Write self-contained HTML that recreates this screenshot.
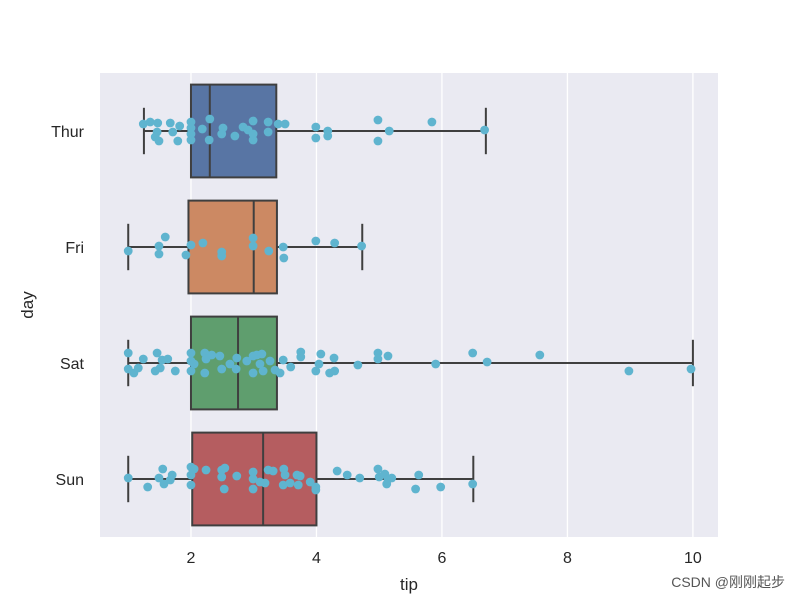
<!DOCTYPE html>
<html><head><meta charset="utf-8"><style>
body{margin:0;background:#fff;}
svg{display:block;font-family:"Liberation Sans","DejaVu Sans",sans-serif;}
</style></head><body>
<svg id="chart" width="800" height="600"></svg>
<script>
const categories=["Thur","Fri","Sat","Sun"];
const boxQ1=[2.0,1.96,2.0,2.02];
const boxMedian=[2.3,3.0,2.75,3.15];
const boxQ3=[3.36,3.37,3.37,4.0];
const whiskerLow=[1.25,1.0,1.0,1.0];
const whiskerHigh=[6.7,4.73,10.0,6.5];
const xTicks=[2,4,6,8,10];
const xTickLabels=["2","4","6","8","10"];
const boxColors=["#5875a4","#cc8963","#5f9e6e","#b55d60"];
const thurTips=[1.24,1.35,1.47,1.46,1.43,1.49,1.67,1.71,1.82,1.79,2.0,2.0,2.0,2.0,2.18,2.30,2.29,2.51,2.49,2.70,2.83,2.91,2.99,2.99,2.99,3.23,3.23,3.39,3.50,3.99,3.99,4.18,4.18,4.98,4.98,5.16,5.84,6.68];
const thurJitter=[-7,-9,-8,1,6,10,-8,1,-5,10,-9,-3,3,9,-2,-12,9,-3,3,5,-4,-1,-10,9,3,-9,1,-7,-7,-4,7,0,5,-11,10,0,-9,-1];
const friTips=[1.0,1.49,1.49,1.59,1.92,2.0,2.19,2.49,2.49,2.99,2.99,3.24,3.47,3.48,3.99,4.29,4.72];
const friJitter=[4,-1,7,-10,8,-2,-4,5,9,-9,-1,4,0,11,-6,-4,-1];
const satTips=[1.0,1.0,1.09,1.16,1.24,1.46,1.43,1.51,1.54,1.63,1.75,2.0,2.0,2.0,2.05,2.22,2.24,2.22,2.33,2.46,2.49,2.62,2.73,2.72,2.89,2.99,3.05,3.13,3.10,2.99,3.15,3.26,3.34,3.42,3.47,3.59,3.75,3.75,4.07,4.04,3.99,4.21,4.28,4.29,4.66,4.98,4.98,5.14,5.90,6.49,6.72,7.56,8.98,9.97];
const satJitter=[-10,6,10,5,-4,-10,8,5,-3,-4,8,-10,-2,8,1,-10,-4,10,-8,-7,6,1,-5,6,-2,-7,-8,-9,1,10,8,-2,7,10,-3,4,-11,-6,-9,1,8,10,-5,8,2,-10,-4,-7,1,-10,-1,-8,8,6];
const sunTips=[1.0,1.31,1.49,1.55,1.57,1.67,1.70,2.0,2.0,2.0,2.05,2.24,2.49,2.54,2.49,2.53,2.73,2.99,2.99,2.99,3.10,3.18,3.23,3.31,3.48,3.50,3.47,3.58,3.69,3.74,3.71,3.90,3.99,3.99,4.33,4.49,4.69,4.98,5.0,5.09,5.14,5.20,5.12,5.58,5.63,5.98,6.49];
const sunJitter=[-1,8,-1,-10,5,1,-4,-12,-4,6,-10,-9,-9,-11,-2,10,-3,-7,0,10,3,4,-9,-8,-10,-4,6,4,-4,-3,6,3,8,11,-8,-4,-1,-10,-2,-5,0,-1,5,10,-4,8,5];

const NS="http://www.w3.org/2000/svg";
const svg=document.getElementById("chart");
const L=100,R=718,T=73,B=537,xmin=0.55,xmax=10.4;
const xs=v=>L+(v-xmin)/(xmax-xmin)*(R-L);
const band=(B-T)/categories.length;
const ys=i=>T+band*(i+0.5);
function mk(tag,attrs,parent){const e=document.createElementNS(NS,tag);for(const k in attrs)e.setAttribute(k,attrs[k]);(parent||svg).appendChild(e);return e;}

const bg=mk("rect",{x:L,y:T,width:R-L,height:B-T,fill:"#eaeaf2"});


xTicks.forEach((t,i)=>{
  const g=mk("line",{x1:xs(t),x2:xs(t),y1:T,y2:B,stroke:"#fff","stroke-width":1.3});
  
  
  const tx=mk("text",{x:xs(t),y:563,"text-anchor":"middle","font-size":16,fill:"#262626"});
  tx.textContent=xTickLabels[i];
  
  
});
const bh=band*0.8, line="#3f3f3f";
categories.forEach((c,i)=>{
  const cy=ys(i);
  const lab=mk("text",{x:84,y:cy+6,"text-anchor":"end","font-size":16,fill:"#262626"});
  lab.textContent=c;
  
  
  const g=mk("g",{});
  
  
  mk("line",{x1:xs(whiskerLow[i]),x2:xs(boxQ1[i]),y1:cy,y2:cy,stroke:line,"stroke-width":2},g);
  mk("line",{x1:xs(boxQ3[i]),x2:xs(whiskerHigh[i]),y1:cy,y2:cy,stroke:line,"stroke-width":2},g);
  mk("line",{x1:xs(whiskerLow[i]),x2:xs(whiskerLow[i]),y1:cy-bh/4,y2:cy+bh/4,stroke:line,"stroke-width":2},g);
  mk("line",{x1:xs(whiskerHigh[i]),x2:xs(whiskerHigh[i]),y1:cy-bh/4,y2:cy+bh/4,stroke:line,"stroke-width":2},g);
  mk("rect",{x:xs(boxQ1[i]),y:cy-bh/2,width:xs(boxQ3[i])-xs(boxQ1[i]),height:bh,fill:boxColors[i],stroke:line,"stroke-width":2},g);
  mk("line",{x1:xs(boxMedian[i]),x2:xs(boxMedian[i]),y1:cy-bh/2,y2:cy+bh/2,stroke:line,"stroke-width":2},g);
});
const tipsArr=[thurTips,friTips,satTips,sunTips], jitArr=[thurJitter,friJitter,satJitter,sunJitter];
tipsArr.forEach((tips,i)=>{
  tips.forEach((v,j)=>{
    const p=mk("circle",{cx:xs(v),cy:ys(i)+jitArr[i][j]*band/116,r:4.4,fill:"#5fb4cf"});
    
    
  });
});
const xt=mk("text",{x:409,y:590,"text-anchor":"middle","font-size":17,fill:"#262626"});
xt.textContent="tip";


const yt=mk("text",{x:33,y:305,"text-anchor":"middle","font-size":17,fill:"#262626",transform:"rotate(-90 33 305)"});
yt.textContent="day";


const wm=mk("text",{x:785,y:587,"text-anchor":"end","font-size":14,fill:"#555"});
wm.textContent="CSDN @刚刚起步";
wm.setAttribute('font-family','"Liberation Sans","Noto Sans CJK SC",sans-serif');


</script>
</body></html>
